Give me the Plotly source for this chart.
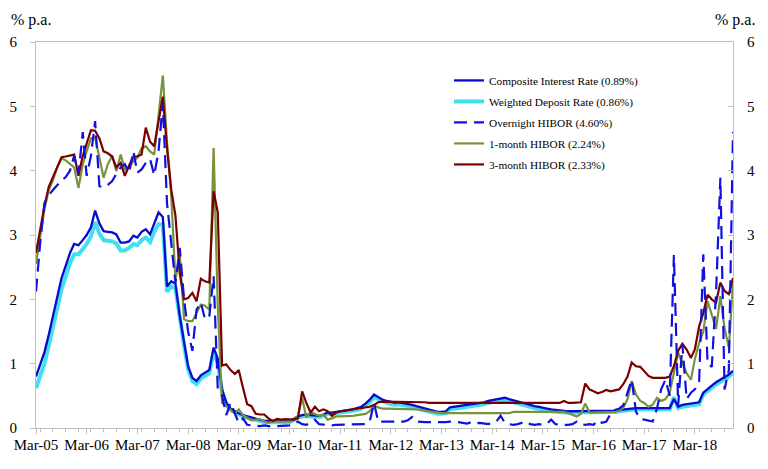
import pandas as pd
import plotly.graph_objects as go

# Monthly observations, Mar-2005 .. Dec-2018
months = pd.date_range("2005-03-01", "2018-12-01", freq="MS")

composite = [
    0.80, 1.00, 1.18, 1.45, 1.75, 2.05, 2.33, 2.52, 2.72, 2.86,
    2.84, 2.92, 3.00, 3.12, 3.38, 3.18, 3.06, 3.05, 3.04, 3.01, 2.88, 2.88,
    2.90, 2.99, 2.96, 3.05, 3.09, 3.01, 3.19, 3.35, 3.28, 2.20, 2.28, 2.24,
    1.74, 1.33, 0.96, 0.78, 0.73, 0.82, 0.86, 0.90, 1.25, 1.08, 0.60, 0.40,
    0.30, 0.26, 0.23, 0.20, 0.18, 0.16, 0.14, 0.12, 0.11, 0.11, 0.11, 0.11,
    0.11, 0.11, 0.11, 0.14, 0.18, 0.20, 0.21, 0.20, 0.19, 0.19, 0.21, 0.24,
    0.24, 0.25, 0.26, 0.26, 0.27, 0.29, 0.31, 0.33, 0.38, 0.44, 0.52, 0.48,
    0.44, 0.42, 0.40, 0.39, 0.40, 0.39, 0.37, 0.36, 0.34, 0.32, 0.30, 0.28,
    0.26, 0.25, 0.25, 0.26, 0.32, 0.33, 0.34, 0.34, 0.35, 0.36, 0.37, 0.38,
    0.40, 0.42, 0.43, 0.45, 0.46, 0.47, 0.45, 0.43, 0.41, 0.39, 0.38, 0.36,
    0.34, 0.33, 0.31, 0.30, 0.29, 0.28, 0.27, 0.27, 0.26, 0.26, 0.26, 0.26,
    0.26, 0.26, 0.26, 0.27, 0.27, 0.27, 0.27, 0.27, 0.28, 0.29, 0.30, 0.31,
    0.31, 0.31, 0.31, 0.31, 0.31, 0.31, 0.31, 0.31, 0.31, 0.45, 0.33, 0.36,
    0.37, 0.38, 0.39, 0.40, 0.55, 0.61, 0.66, 0.71, 0.75, 0.78, 0.83, 0.89,
]

deposit = [
    0.62, 0.82, 1.00, 1.28, 1.58, 1.88, 2.16, 2.36, 2.56, 2.70,
    2.70, 2.78, 2.86, 2.98, 3.20, 3.02, 2.92, 2.91, 2.90, 2.87, 2.76, 2.76,
    2.80, 2.86, 2.84, 2.92, 2.96, 2.89, 3.05, 3.17, 3.16, 2.12, 2.20, 2.17,
    1.68, 1.28, 0.92, 0.73, 0.68, 0.77, 0.81, 0.85, 1.18, 1.02, 0.56, 0.37,
    0.28, 0.24, 0.21, 0.18, 0.16, 0.14, 0.12, 0.10, 0.09, 0.09, 0.09, 0.09,
    0.09, 0.09, 0.09, 0.12, 0.16, 0.18, 0.19, 0.18, 0.17, 0.17, 0.19, 0.22,
    0.22, 0.23, 0.24, 0.24, 0.25, 0.27, 0.28, 0.30, 0.35, 0.40, 0.48, 0.45,
    0.41, 0.39, 0.37, 0.36, 0.37, 0.36, 0.34, 0.33, 0.31, 0.29, 0.27, 0.25,
    0.23, 0.22, 0.22, 0.23, 0.29, 0.30, 0.31, 0.31, 0.32, 0.33, 0.34, 0.35,
    0.37, 0.39, 0.40, 0.42, 0.43, 0.44, 0.42, 0.40, 0.38, 0.36, 0.35, 0.33,
    0.31, 0.30, 0.28, 0.27, 0.26, 0.25, 0.25, 0.24, 0.24, 0.24, 0.24, 0.24,
    0.24, 0.24, 0.24, 0.25, 0.25, 0.25, 0.25, 0.25, 0.26, 0.27, 0.28, 0.29,
    0.29, 0.29, 0.29, 0.29, 0.29, 0.29, 0.29, 0.29, 0.29, 0.48, 0.31, 0.33,
    0.34, 0.35, 0.36, 0.37, 0.52, 0.58, 0.63, 0.68, 0.72, 0.75, 0.80, 0.86,
]

overnight = [
    2.12, 2.90, 3.50, 3.62, 3.70, 3.78, 3.85, 3.90, 4.00, 4.23,
    3.95, 4.60, 3.92, 4.23, 4.77, 3.76, 3.74, 3.78, 3.84, 3.95, 4.05, 4.10,
    3.97, 4.30, 3.97, 4.02, 4.12, 4.18, 3.93, 4.30, 5.05, 3.50, 2.90, 2.25,
    2.80, 2.00, 1.50, 1.20, 1.84, 1.95, 1.69, 1.74, 2.36, 0.60, 0.50, 0.20,
    0.39, 0.24, 0.08, 0.15, 0.05, 0.04, 0.03, 0.03, 0.04, 0.03, 0.02, 0.03,
    0.03, 0.03, 0.04, 0.05, 0.10, 0.06, 0.05, 0.08, 0.13, 0.06, 0.05, 0.05,
    0.04, 0.05, 0.05, 0.05, 0.05, 0.05, 0.05, 0.05, 0.06, 0.10, 0.39, 0.10,
    0.10, 0.10, 0.11, 0.11, 0.10, 0.10, 0.12, 0.17, 0.10, 0.09, 0.09, 0.09,
    0.09, 0.08, 0.08, 0.09, 0.10, 0.10, 0.09, 0.08, 0.07, 0.09, 0.07, 0.08,
    0.07, 0.06, 0.08, 0.10, 0.19, 0.08, 0.06, 0.05, 0.06, 0.08, 0.10, 0.06,
    0.05, 0.06, 0.05, 0.07, 0.13, 0.06, 0.05, 0.05, 0.05, 0.06, 0.10, 0.06,
    0.05, 0.06, 0.05, 0.12, 0.08, 0.10, 0.22, 0.28, 0.30, 0.35, 0.55, 0.75,
    0.25, 0.15, 0.13, 0.12, 0.10, 0.30, 0.60, 0.75, 0.50, 2.69, 0.35, 1.30,
    0.45, 0.55, 0.60, 0.72, 2.70, 1.00, 0.95, 2.10, 3.89, 0.60, 0.90, 4.60,
]

hibor_1m = [
    2.55, 3.00, 3.40, 3.70, 3.85, 4.05, 4.19, 4.16, 4.10, 4.05,
    3.73, 4.10, 4.30, 4.50, 4.52, 4.20, 3.89, 4.10, 4.23, 3.99, 4.25, 4.02,
    4.05, 4.15, 4.20, 4.35, 4.38, 4.30, 4.25, 4.85, 5.48, 4.45, 3.60, 2.30,
    2.70, 1.69, 1.66, 1.66, 1.79, 1.92, 1.90, 1.84, 4.35, 1.90, 0.39, 0.34,
    0.29, 0.23, 0.29, 0.20, 0.16, 0.12, 0.13, 0.14, 0.10, 0.08, 0.10, 0.10,
    0.10, 0.10, 0.10, 0.12, 0.18, 0.47, 0.16, 0.25, 0.22, 0.19, 0.21, 0.13,
    0.15, 0.18, 0.18, 0.18, 0.18, 0.19, 0.20, 0.21, 0.22, 0.26, 0.35, 0.32,
    0.30, 0.30, 0.30, 0.30, 0.30, 0.30, 0.30, 0.30, 0.29, 0.28, 0.27, 0.25,
    0.24, 0.23, 0.23, 0.23, 0.23, 0.23, 0.22, 0.22, 0.22, 0.22, 0.22, 0.23,
    0.23, 0.23, 0.23, 0.23, 0.23, 0.23, 0.23, 0.25, 0.25, 0.25, 0.25, 0.25,
    0.25, 0.25, 0.25, 0.25, 0.25, 0.26, 0.26, 0.25, 0.23, 0.20, 0.18, 0.22,
    0.38, 0.24, 0.24, 0.24, 0.24, 0.24, 0.24, 0.25, 0.27, 0.31, 0.45, 0.73,
    0.52, 0.42, 0.39, 0.33, 0.36, 0.47, 0.42, 0.45, 0.55, 0.86, 1.17, 1.00,
    0.85, 0.75, 1.07, 1.32, 1.50, 1.97, 1.74, 1.54, 2.05, 1.55, 1.25, 2.24,
]

hibor_3m = [
    2.72, 3.10, 3.45, 3.75, 3.90, 4.05, 4.21, 4.22, 4.23, 4.25,
    3.92, 4.23, 4.42, 4.63, 4.62, 4.50, 4.30, 4.27, 4.22, 4.05, 4.12, 3.92,
    4.08, 4.22, 4.22, 4.25, 4.67, 4.45, 4.38, 4.78, 5.15, 4.35, 3.70, 3.30,
    2.40, 2.00, 2.02, 2.10, 1.97, 2.32, 2.28, 2.26, 3.68, 3.35, 0.97, 0.99,
    0.90, 0.84, 0.90, 0.62, 0.37, 0.34, 0.22, 0.21, 0.21, 0.15, 0.11, 0.14,
    0.13, 0.14, 0.13, 0.13, 0.15, 0.57, 0.39, 0.24, 0.33, 0.26, 0.29, 0.26,
    0.19, 0.24, 0.26, 0.27, 0.28, 0.28, 0.29, 0.30, 0.31, 0.33, 0.36, 0.40,
    0.41, 0.41, 0.41, 0.41, 0.40, 0.40, 0.40, 0.40, 0.40, 0.40, 0.40, 0.39,
    0.39, 0.39, 0.39, 0.39, 0.39, 0.39, 0.39, 0.38, 0.38, 0.38, 0.38, 0.38,
    0.38, 0.38, 0.38, 0.38, 0.38, 0.38, 0.38, 0.38, 0.38, 0.38, 0.38, 0.38,
    0.38, 0.38, 0.38, 0.38, 0.38, 0.38, 0.39, 0.42, 0.39, 0.39, 0.40, 0.40,
    0.69, 0.60, 0.57, 0.54, 0.56, 0.59, 0.57, 0.58, 0.60, 0.68, 0.80, 1.02,
    0.96, 0.95, 0.88, 0.81, 0.78, 0.78, 0.78, 0.78, 0.80, 0.96, 1.20, 1.31,
    1.22, 1.09, 1.22, 1.58, 1.79, 2.07, 2.00, 1.95, 2.26, 2.13, 2.08, 2.33,
]

names = [
    "Composite Interest Rate (0.89%)",
    "Weighted Deposit Rate (0.86%)",
    "Overnight HIBOR (4.60%)",
    "1-month HIBOR (2.24%)",
    "3-month HIBOR (2.33%)",
]

SERIF = "Liberation Serif, Times New Roman, serif"
GRAY = "#BFBFBF"

fig = go.Figure()
# drawing order: deposit under composite, dashed overnight on top
fig.add_trace(go.Scatter(x=months, y=deposit, name=names[1], mode="lines",
                         line=dict(color="#3FE0F0", width=4), legendrank=2,
                         legendgroup="b"))
fig.add_trace(go.Scatter(x=months, y=composite, name=names[0], mode="lines",
                         line=dict(color="#0A0ACC", width=2.3), legendrank=1,
                         legendgroup="a"))
fig.add_trace(go.Scatter(x=months, y=hibor_1m, name=names[3], mode="lines",
                         line=dict(color="#77933C", width=2.2), legendrank=4,
                         legendgroup="d"))
fig.add_trace(go.Scatter(x=months, y=hibor_3m, name=names[4], mode="lines",
                         line=dict(color="#7A0000", width=2.2), legendrank=5,
                         legendgroup="e"))
fig.add_trace(go.Scatter(x=months, y=overnight, name=names[2], mode="lines",
                         line=dict(color="#1010E0", width=2.2, dash="13px,7px"),
                         legendrank=3, legendgroup="c"))
# invisible copy on the right-hand axis so that it is drawn
fig.add_trace(go.Scatter(x=months, y=composite, yaxis="y2", mode="lines",
                         line=dict(width=0), opacity=0, showlegend=False,
                         hoverinfo="skip"))

# page has an 8px body margin, so the figure is 752x453 placed at (8, 8)
fig.update_layout(
    width=752, height=453,
    margin=dict(l=28, r=27, t=34, b=33, autoexpand=False),
    paper_bgcolor="white", plot_bgcolor="white",
    font=dict(family=SERIF, size=15, color="black"),
    showlegend=True,
    legend=dict(x=0.5925, y=0.938, xanchor="left", yanchor="top",
                font=dict(family=SERIF, size=11.3, color="black"),
                bgcolor="rgba(255,255,255,0)", tracegroupgap=2),
    xaxis=dict(type="date", range=[months[0], months[-1]],
               tick0="2005-03-01", dtick="M12", tickformat="%b-%y",
               ticks="outside", ticklen=5, tickcolor=GRAY,
               showline=True, linecolor=GRAY, linewidth=1, mirror=True,
               showgrid=False, zeroline=False, ticklabelstandoff=-2,
               minor=dict(dtick="M3", ticks="outside", ticklen=3, tickcolor=GRAY),
               tickfont=dict(family=SERIF, size=15)),
    yaxis=dict(range=[0, 6], dtick=1, ticks="outside", ticklen=5, tickcolor=GRAY,
               showline=True, linecolor=GRAY, showgrid=False, zeroline=False,
               ticklabelstandoff=10, tickfont=dict(family=SERIF, size=15)),
    yaxis2=dict(range=[0, 6], dtick=1, overlaying="y", side="right",
                ticks="inside", ticklen=5, tickcolor=GRAY,
                showline=True, linecolor=GRAY, showgrid=False, zeroline=False,
                ticklabelstandoff=10, tickfont=dict(family=SERIF, size=15)),
    annotations=[
        dict(text="% p.a.", xref="paper", yref="paper", x=-0.0387, y=1.057,
             xanchor="left", yanchor="middle", showarrow=False,
             font=dict(family=SERIF, size=16)),
        dict(text="% p.a.", xref="paper", yref="paper", x=1.003, y=1.057,
             xanchor="center", yanchor="middle", showarrow=False,
             font=dict(family=SERIF, size=16)),
    ],
)

fig.write_html("out.html")
